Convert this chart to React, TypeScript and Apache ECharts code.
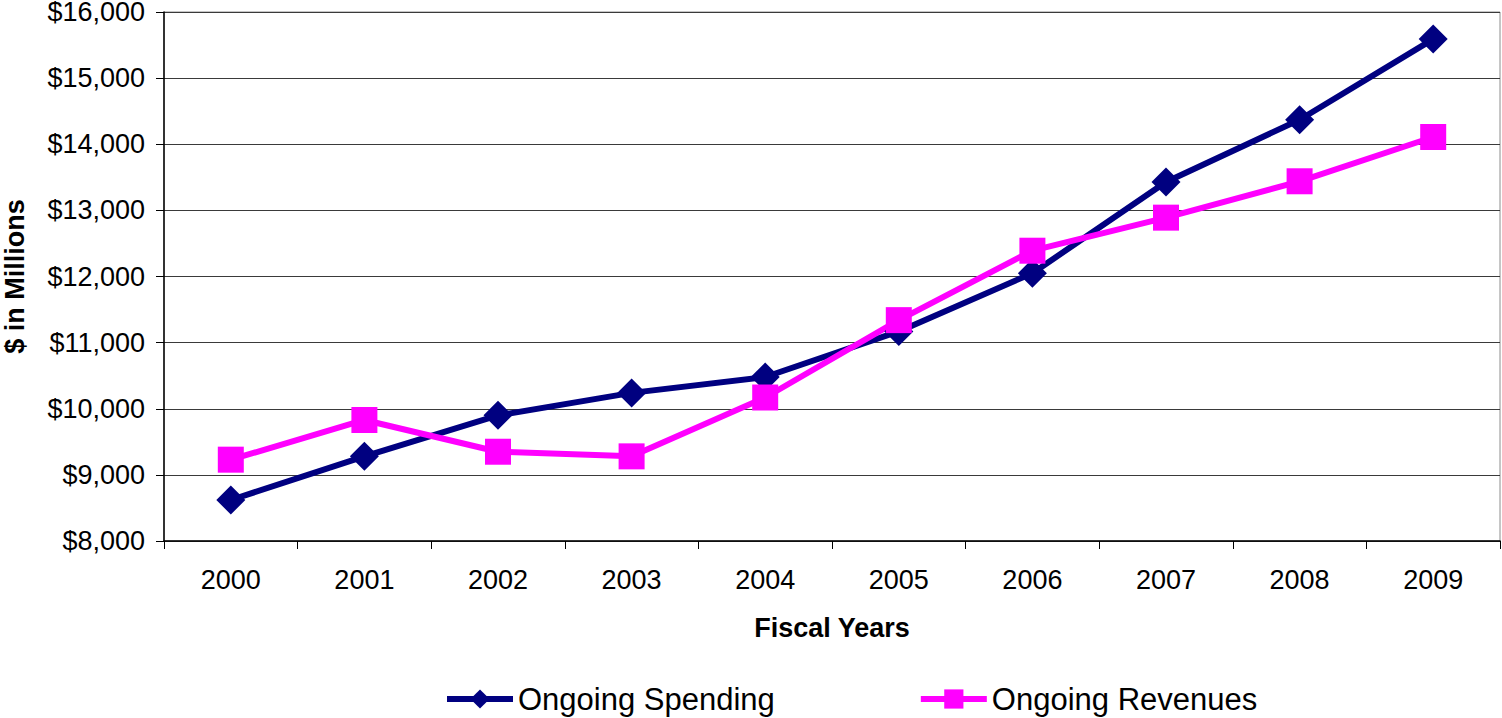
import React, { useEffect, useRef } from "react";
import * as echarts from "echarts";

const years = ["2000", "2001", "2002", "2003", "2004", "2005", "2006", "2007", "2008", "2009"];
const spending = [8620, 9280, 9900, 10240, 10480, 11170, 12050, 13430, 14370, 15590];
const revenues = [9230, 9830, 9350, 9280, 10170, 11340, 12390, 12890, 13440, 14110];
const seriesNames = ["Ongoing Spending", "Ongoing Revenues"];
const yMin = 8000;
const yMax = 16000;
const yStep = 1000;

const FONT = "'Liberation Sans', Arial, sans-serif";

export default function App() {
  const ref = useRef<HTMLDivElement>(null);
  useEffect(() => {
    if (!ref.current) return;
    const chart = echarts.init(ref.current, undefined, { renderer: "svg" });
    chart.setOption({
      animation: false,
      backgroundColor: "#ffffff",
      textStyle: { fontFamily: FONT },
      grid: {
        left: 164,
        right: 2,
        top: 12,
        bottom: 177,
        outerBoundsMode: "none",
        containLabel: false,
        show: true,
        borderColor: "#8c8c8c",
        borderWidth: 1,
        backgroundColor: "transparent",
      },
      legend: {
        left: 444,
        top: 683,
        itemGap: 143,
        itemWidth: 66,
        itemHeight: 24,
        padding: 0,
        lineStyle: { width: 6 },
        textStyle: { fontFamily: FONT, fontSize: 31, color: "#000", lineHeight: 32 },
        data: seriesNames,
      },
      xAxis: {
        type: "category",
        data: years,
        boundaryGap: true,
        axisLine: { lineStyle: { color: "#000", width: 1.5 } },
        axisTick: { show: true, length: 8, interval: 0, lineStyle: { color: "#000" } },
        axisLabel: { fontSize: 27, color: "#000", margin: 25, fontFamily: FONT, interval: 0 },
        name: "Fiscal Years",
        nameLocation: "middle",
        nameGap: 73,
        nameTextStyle: { fontSize: 27, fontWeight: "bold", color: "#000", fontFamily: FONT },
        splitLine: { show: false },
      },
      yAxis: {
        type: "value",
        min: yMin,
        max: yMax,
        interval: yStep,
        axisLine: { show: true, lineStyle: { color: "#000", width: 1.5 } },
        axisTick: { show: true, length: 8, lineStyle: { color: "#000" } },
        axisLabel: {
          fontSize: 27,
          lineHeight: 22,
          color: "#000",
          margin: 19,
          fontFamily: FONT,
          formatter: (v: number) => "$" + v.toLocaleString("en-US"),
        },
        splitLine: { show: true, lineStyle: { color: "#3a3a3a", width: 1 } },
        name: "$ in Millions",
        nameLocation: "middle",
        nameRotate: 90,
        nameGap: 136,
        nameTextStyle: { fontSize: 27, fontWeight: "bold", color: "#000", fontFamily: FONT },
      },
      series: [
        {
          name: seriesNames[0],
          type: "line",
          data: spending,
          symbol: "diamond",
          symbolSize: 29,
          itemStyle: { color: "#000080" },
          lineStyle: { color: "#000080", width: 6 },
        },
        {
          name: seriesNames[1],
          type: "line",
          data: revenues,
          symbol: "rect",
          symbolSize: 26,
          itemStyle: { color: "#FF00FF" },
          lineStyle: { color: "#FF00FF", width: 6 },
        },
      ],
    });
    return () => chart.dispose();
  }, []);
  return (
    <div
      ref={ref}
      style={{ position: "absolute", left: 0, top: 0, width: 1502, height: 718, background: "#fff" }}
    />
  );
}
